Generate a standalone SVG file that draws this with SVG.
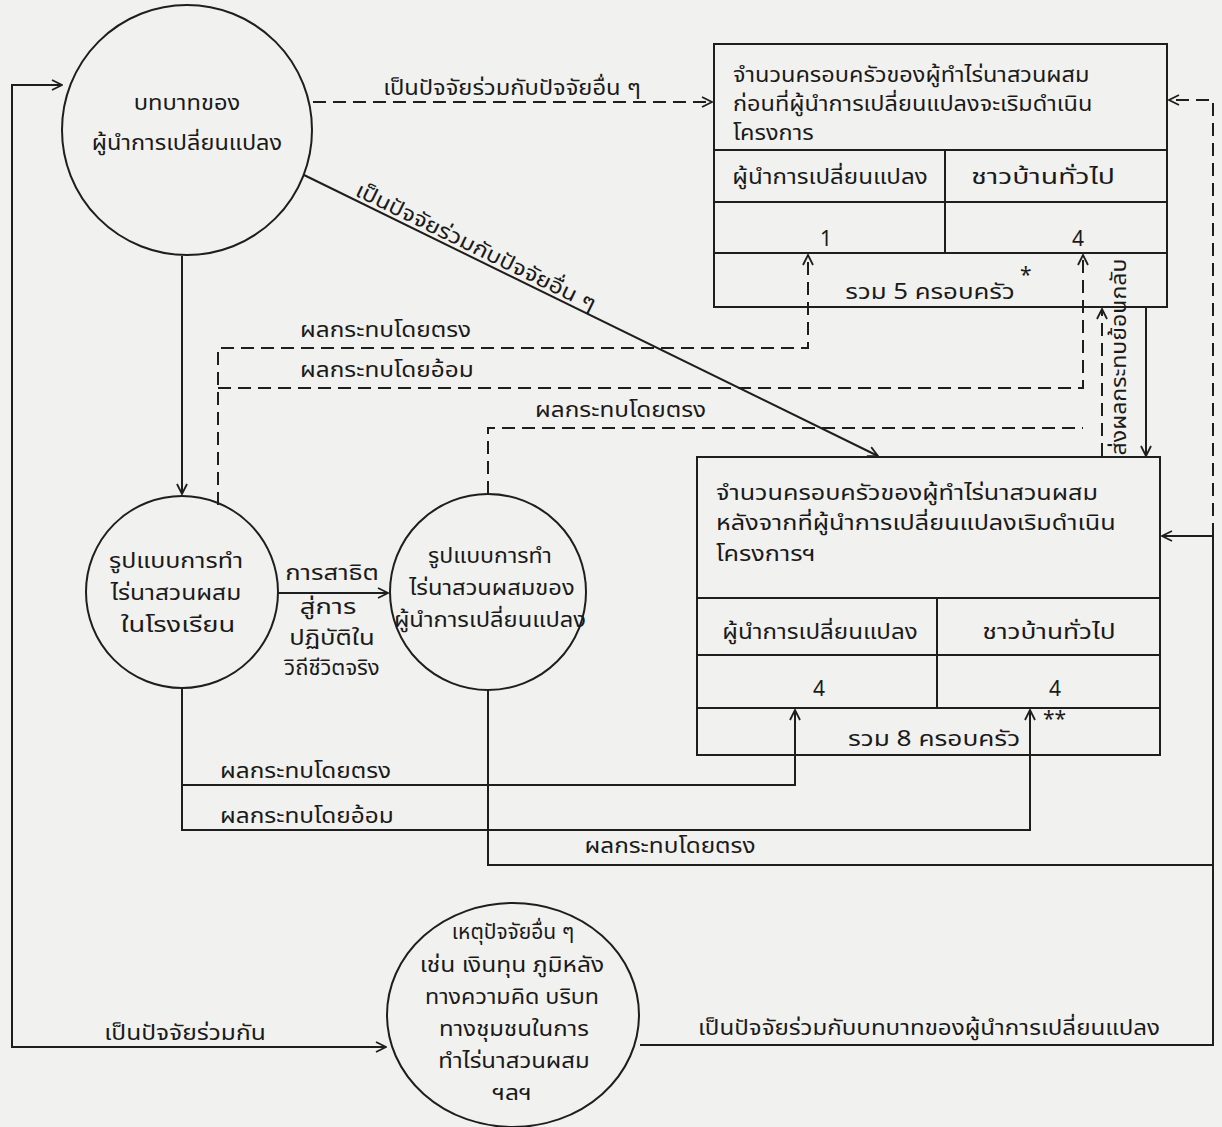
<svg xmlns="http://www.w3.org/2000/svg" width="1222" height="1127" viewBox="0 0 1222 1127">
<style>
.bg{fill:#f1f1ef}
.n{fill:none;stroke:#1e1e1e;stroke-width:2}
.c{fill:none;stroke:#1e1e1e;stroke-width:2}
.d{stroke-dasharray:13 7}
text{font-family:"Noto Sans Thai","Noto Sans","DejaVu Sans",sans-serif;font-size:21px;fill:#1a1a1a}
.m{text-anchor:middle}
</style>
<defs>
<marker id="ah" viewBox="0 0 12 12" refX="11" refY="6" markerWidth="12" markerHeight="12" markerUnits="userSpaceOnUse" orient="auto-start-reverse">
<path d="M1,1 L11,6 L1,11" fill="none" stroke="#1e1e1e" stroke-width="1.8"/>
</marker>
</defs>
<rect class="bg" x="0" y="0" width="1222" height="1127"/>

<g id="node-role">
<circle class="n" cx="187" cy="130" r="125"/>
<text class="m" transform="translate(187,110) scale(1.13,1)">บทบาทของ</text>
<text class="m" transform="translate(187,150) scale(1.12,1)">ผู้นำการเปลี่ยนแปลง</text>
</g>

<g id="node-before">
<rect class="n" x="714" y="44" width="453" height="263"/>
<line class="n" x1="714" y1="150" x2="1167" y2="150"/>
<line class="n" x1="714" y1="202" x2="1167" y2="202"/>
<line class="n" x1="714" y1="253" x2="1167" y2="253"/>
<line class="n" x1="945" y1="150" x2="945" y2="253"/>
<text transform="translate(733,82) scale(1.12,1)">จำนวนครอบครัวของผู้ทำไร่นาสวนผสม</text>
<text transform="translate(733,111) scale(1.12,1)">ก่อนที่ผู้นำการเปลี่ยนแปลงจะเริมดำเนิน</text>
<text transform="translate(733,140) scale(1.12,1)">โครงการ</text>
<text class="m" transform="translate(830,184) scale(1.15,1)">ผู้นำการเปลี่ยนแปลง</text>
<text class="m" transform="translate(1043,184) scale(1.35,1)">ชาวบ้านทั่วไป</text>
<text x="820" y="246">1</text>
<text x="1072" y="246">4</text>
<text class="m" transform="translate(930,299) scale(1.23,1)">รวม 5 ครอบครัว</text>
<text x="1020" y="282">*</text>
</g>

<g id="node-after">
<rect class="n" x="697" y="457" width="463" height="298"/>
<line class="n" x1="697" y1="598" x2="1160" y2="598"/>
<line class="n" x1="697" y1="655" x2="1160" y2="655"/>
<line class="n" x1="697" y1="708" x2="1160" y2="708"/>
<line class="n" x1="937" y1="598" x2="937" y2="708"/>
<text transform="translate(716,500) scale(1.2,1)">จำนวนครอบครัวของผู้ทำไร่นาสวนผสม</text>
<text transform="translate(716,530) scale(1.2,1)">หลังจากที่ผู้นำการเปลี่ยนแปลงเริมดำเนิน</text>
<text transform="translate(716,561) scale(1.2,1)">โครงการฯ</text>
<text class="m" transform="translate(820,639) scale(1.15,1)">ผู้นำการเปลี่ยนแปลง</text>
<text class="m" transform="translate(1049,639) scale(1.25,1)">ชาวบ้านทั่วไป</text>
<text class="m" x="819" y="696">4</text>
<text class="m" x="1055" y="696">4</text>
<text class="m" transform="translate(934,746) scale(1.25,1)">รวม 8 ครอบครัว</text>
<text x="1043" y="726">**</text>
</g>

<g id="node-school">
<circle class="n" cx="182" cy="592" r="96"/>
<text class="m" transform="translate(176,568) scale(1.19,1)">รูปแบบการทำ</text>
<text class="m" transform="translate(176,600) scale(1.17,1)">ไร่นาสวนผสม</text>
<text class="m" transform="translate(178,632) scale(1.3,1)">ในโรงเรียน</text>
</g>

<g id="node-leaderfarm">
<circle class="n" cx="488" cy="592" r="98"/>
<text class="m" transform="translate(490,563) scale(1.1,1)">รูปแบบการทำ</text>
<text class="m" transform="translate(492,595) scale(1.13,1)">ไร่นาสวนผสมของ</text>
<text class="m" transform="translate(490,627) scale(1.13,1)">ผู้นำการเปลี่ยนแปลง</text>
</g>

<g id="node-other">
<ellipse class="n" cx="513" cy="1015" rx="126" ry="112"/>
<text class="m" transform="translate(513,939) scale(1.0,1)">เหตุปัจจัยอื่น ๆ</text>
<text class="m" transform="translate(512,972) scale(1.17,1)">เช่น เงินทุน ภูมิหลัง</text>
<text class="m" transform="translate(512,1004) scale(1.11,1)">ทางความคิด บริบท</text>
<text class="m" transform="translate(514,1036) scale(1.14,1)">ทางชุมชนในการ</text>
<text class="m" transform="translate(514,1068) scale(1.14,1)">ทำไร่นาสวนผสม</text>
<text class="m" transform="translate(512,1100) scale(1.17,1)">ฯลฯ</text>
</g>

<g id="connectors">
<path class="c d" d="M313,102 H712" marker-end="url(#ah)"/>
<text class="m" transform="translate(512,95) scale(1.13,1)">เป็นปัจจัยร่วมกับปัจจัยอื่น ๆ</text>

<path class="c" d="M304,175 L878,456" marker-end="url(#ah)"/>
<text transform="translate(354,195) rotate(26.1) scale(1.16,1)">เป็นปัจจัยร่วมกับปัจจัยอื่น ๆ</text>

<path class="c" d="M182,256 V494" marker-end="url(#ah)"/>

<path class="c" d="M386,1047 H12 V85 H62" marker-start="url(#ah)" marker-end="url(#ah)"/>
<text class="m" transform="translate(185,1040) scale(1.17,1)">เป็นปัจจัยร่วมกัน</text>

<path class="c" d="M278,593 H388" marker-end="url(#ah)"/>
<text class="m" transform="translate(332,580) scale(1.22,1)">การสาธิต</text>
<text class="m" transform="translate(328,614) scale(1.3,1)">สู่การ</text>
<text class="m" transform="translate(332,645) scale(1.22,1)">ปฏิบัติใน</text>
<text class="m" transform="translate(332,675) scale(1.05,1)">วิถีชีวิตจริง</text>

<path class="c d" d="M218,505 V348 H808 V255" marker-end="url(#ah)"/>
<text transform="translate(300,337) scale(1.16,1)">ผลกระทบโดยตรง</text>
<path class="c d" d="M218,388 H1083 V255" marker-end="url(#ah)"/>
<text transform="translate(300,377) scale(1.16,1)">ผลกระทบโดยอ้อม</text>
<path class="c d" d="M488,494 V428 H1083"/>
<text transform="translate(535,417) scale(1.16,1)">ผลกระทบโดยตรง</text>

<path class="c d" d="M1102,456 V309" marker-end="url(#ah)"/>
<text class="m" transform="translate(1126,357) rotate(-90) scale(1.1,1)">ส่งผลกระทบย้อนกลับ</text>
<path class="c" d="M1146,307 V456" marker-end="url(#ah)"/>

<path class="c" d="M182,688 V830 H1030 V710" marker-end="url(#ah)"/>
<path class="c" d="M182,785 H795 V710" marker-end="url(#ah)"/>
<text transform="translate(220,778) scale(1.16,1)">ผลกระทบโดยตรง</text>
<text transform="translate(220,823) scale(1.16,1)">ผลกระทบโดยอ้อม</text>

<path class="c" d="M488,690 V865 H1213"/>
<text class="m" transform="translate(670,853) scale(1.16,1)">ผลกระทบโดยตรง</text>

<path class="c" d="M640,1045 H1213 V536 H1162" marker-end="url(#ah)"/>
<text class="m" transform="translate(929,1035) scale(1.15,1)">เป็นปัจจัยร่วมกับบทบาทของผู้นำการเปลี่ยนแปลง</text>
<path class="c d" d="M1213,536 V100 H1169" marker-end="url(#ah)"/>
</g>
</svg>
